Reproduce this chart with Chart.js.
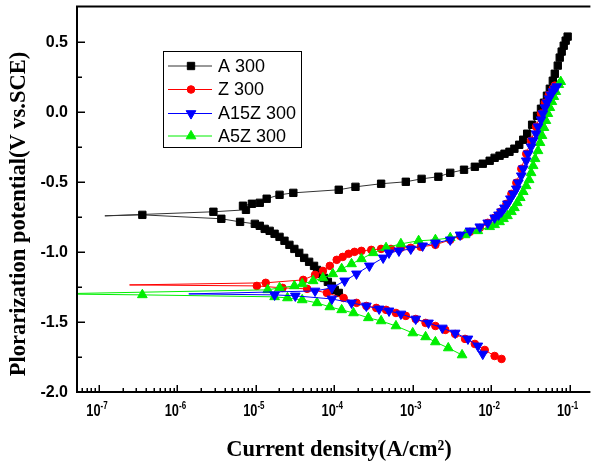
<!DOCTYPE html>
<html>
<head>
<meta charset="utf-8">
<script src="https://cdn.jsdelivr.net/npm/chart.js@4.4.1/dist/chart.umd.min.js"></script>
<style>
html,body{margin:0;padding:0;background:#fff;overflow:hidden}
canvas{display:block}
</style>
</head>
<body>
<canvas id="c" width="597" height="463"></canvas>
<script>
// ---- data: log10(current density, A/cm2) and potential (V vs. SCE) ----
const seriesNames = ['A 300', 'Z 300', 'A15Z 300', 'A5Z 300'];

const logI_A = [-3.943,-3.994,-4.031,-4.082,-4.132,-4.182,-4.220,-4.258,-4.321,-4.384,-4.447,-4.509,-4.572,-4.635,-4.698,-4.761,-4.824,-4.887,-4.950,-5.013,-5.201,-5.440,
  -6.447,-6.925,
  -5.541,-5.126,-5.164,-5.050,-4.950,-4.862,-4.698,-4.522,-3.943,-3.730,-3.403,-3.088,-2.887,-2.673,-2.522,-2.346,-2.208,-2.107,
  -2.019,-1.956,-1.893,-1.830,-1.767,-1.704,-1.642,-1.591,-1.541,-1.478,-1.415,-1.365,-1.327,-1.289,-1.252,-1.214,-1.189,-1.151,-1.126,-1.101,-1.075,-1.050,-1.025];
const E_A = [-1.293,-1.271,-1.243,-1.214,-1.186,-1.157,-1.129,-1.100,-1.071,-1.043,-1.007,-0.979,-0.950,-0.921,-0.893,-0.871,-0.850,-0.836,-0.814,-0.800,-0.786,-0.764,
  -0.736,-0.743,
  -0.714,-0.700,-0.671,-0.657,-0.650,-0.621,-0.593,-0.579,-0.557,-0.536,-0.514,-0.500,-0.479,-0.464,-0.436,-0.414,-0.393,-0.371,
  -0.350,-0.329,-0.314,-0.300,-0.286,-0.264,-0.236,-0.200,-0.157,-0.093,-0.029,0.021,0.064,0.114,0.164,0.221,0.271,0.329,0.386,0.429,0.471,0.507,0.536];

const logI_Z = [-1.868,-1.956,-2.082,-2.208,-2.333,-2.459,-2.585,-2.711,-2.836,-2.962,-3.088,-3.214,-3.340,-3.465,-3.591,-3.717,-3.881,-4.094,-4.346,-4.660,-4.987,
  -6.610,
  -4.874,-4.396,-4.245,-4.145,-4.057,-3.969,-3.893,-3.818,-3.742,-3.654,-3.528,-3.403,-3.277,-3.151,-3.025,-2.899,-2.711,
  -2.522,-2.396,-2.270,-2.145,-2.044,-1.956,-1.881,-1.805,-1.742,-1.679,-1.616,-1.553,-1.491,-1.428,-1.365,-1.314,-1.264,-1.214,-1.189];
const E_Z = [-1.764,-1.743,-1.700,-1.657,-1.621,-1.586,-1.557,-1.529,-1.507,-1.479,-1.457,-1.436,-1.414,-1.400,-1.386,-1.364,-1.329,-1.293,-1.264,-1.257,-1.243,
  -1.236,
  -1.221,-1.200,-1.164,-1.136,-1.100,-1.057,-1.036,-1.014,-1.000,-0.993,-0.986,-0.979,-0.979,-0.971,-0.971,-0.964,-0.950,
  -0.914,-0.886,-0.857,-0.829,-0.793,-0.757,-0.714,-0.657,-0.586,-0.507,-0.407,-0.300,-0.207,-0.107,-0.014,0.064,0.121,0.164,0.186];

const logI_A15Z = [-2.107,-2.170,-2.296,-2.459,-2.623,-2.799,-2.962,-3.151,-3.302,-3.428,-3.591,-3.780,-4.031,-4.497,-4.761,
  -5.855,
  -4.245,-4.031,-3.868,-3.717,-3.553,-3.377,-3.302,-3.176,-3.025,-2.874,-2.711,-2.522,-2.396,-2.270,-2.145,-2.044,-1.956,-1.906,-1.868,-1.830,-1.792,-1.755,-1.717,-1.679,-1.654,-1.616,-1.591,-1.553,-1.528,-1.491,-1.465,-1.428,-1.403,-1.365,-1.340,-1.314,-1.289,-1.264,-1.239,-1.214,-1.189,-1.164];
const E_A15Z = [-1.729,-1.671,-1.621,-1.579,-1.543,-1.507,-1.479,-1.443,-1.421,-1.407,-1.386,-1.364,-1.336,-1.314,-1.307,
  -1.300,
  -1.279,-1.257,-1.207,-1.157,-1.100,-1.043,-1.007,-0.993,-0.979,-0.957,-0.936,-0.914,-0.879,-0.850,-0.821,-0.793,-0.757,-0.736,-0.714,-0.686,-0.657,-0.621,-0.586,-0.550,-0.507,-0.457,-0.407,-0.350,-0.300,-0.250,-0.207,-0.157,-0.107,-0.057,-0.014,0.029,0.064,0.093,0.121,0.143,0.164,0.179];

const logI_A5Z = [-2.371,-2.547,-2.711,-2.836,-3.000,-3.214,-3.403,-3.566,-3.755,-3.906,-4.057,-4.220,-4.409,-4.597,-4.761,-6.447,
  -7.600,
  -4.849,-4.698,-4.509,-4.409,-4.270,-4.145,-4.019,-3.906,-3.780,-3.654,-3.503,-3.340,-3.151,-2.925,-2.711,-2.522,-2.333,-2.170,
  -2.019,-1.956,-1.893,-1.843,-1.792,-1.742,-1.704,-1.667,-1.629,-1.591,-1.553,-1.516,-1.491,-1.465,-1.440,-1.403,-1.377,-1.352,-1.327,-1.302,-1.277,-1.252,-1.226,-1.201,-1.176,-1.138,-1.113];
const E_A5Z = [-1.736,-1.686,-1.643,-1.607,-1.579,-1.529,-1.493,-1.471,-1.436,-1.414,-1.393,-1.364,-1.343,-1.329,-1.321,-1.307,
  -1.300,
  -1.271,-1.257,-1.243,-1.229,-1.207,-1.186,-1.157,-1.121,-1.086,-1.050,-1.007,-0.971,-0.943,-0.921,-0.914,-0.900,-0.879,-0.850,
  -0.821,-0.807,-0.786,-0.764,-0.743,-0.714,-0.686,-0.650,-0.614,-0.571,-0.529,-0.486,-0.436,-0.386,-0.336,-0.279,-0.221,-0.171,-0.114,-0.064,-0.014,0.029,0.071,0.107,0.143,0.193,0.214];

// tick labels
const xTickExponents = [-7, -6, -5, -4, -3, -2, -1];
const yTickLabels = ['-2.0', '-1.5', '-1.0', '-0.5', '0.0', '0.5'];

const xTitle = 'Current density(A/cm\u00B2)';
const yTitle = 'Plorarization potential(V vs.SCE)';

// ---- styles ----
const logSets = [logI_A, logI_Z, logI_A15Z, logI_A5Z];
const eSets = [E_A, E_Z, E_A15Z, E_A5Z];
const fillColors = ['#000000', '#ff0000', '#0000ff', '#00ee00'];
const lineColors = ['#333333', '#ff0000', '#0000ff', '#00ee00'];
const pointStyles = ['rect', 'circle', 'triangle', 'triangle'];
const pointRotations = [0, 0, 180, 0];
const pointSizes = [5.2, 3.8, 5.6, 5.6];
const drawOrder = [3, 2, 0, 1];

const datasets = seriesNames.map((name, i) => {
  const li = logSets[i], ev = eSets[i];
  const minIdx = li.indexOf(Math.min(...li)); // Ecorr extreme: line only, no marker
  return {
    label: name,
    data: li.map((v, k) => ({ x: Math.pow(10, v), y: ev[k] })),
    showLine: true,
    borderColor: lineColors[i],
    borderWidth: 1,
    backgroundColor: fillColors[i],
    pointBackgroundColor: fillColors[i],
    pointBorderColor: fillColors[i],
    pointBorderWidth: 1,
    pointStyle: pointStyles[i],
    pointRotation: pointRotations[i],
    pointRadius: ctx => (ctx.dataIndex === minIdx ? 0 : pointSizes[i]),
    tension: 0,
    order: drawOrder[i]
  };
});

function marker(ctx, style, x, y, r, rot) {
  ctx.beginPath();
  if (style === 'rect') {
    const s = r * Math.SQRT1_2;
    ctx.rect(x - s, y - s, 2 * s, 2 * s);
  } else if (style === 'circle') {
    ctx.arc(x, y, r, 0, Math.PI * 2);
  } else {
    let a = rot * Math.PI / 180;
    for (let k = 0; k < 3; k++) {
      const px = x + Math.sin(a) * r, py = y - Math.cos(a) * r;
      if (k) ctx.lineTo(px, py); else ctx.moveTo(px, py);
      a += 2 * Math.PI / 3;
    }
    ctx.closePath();
  }
  ctx.fill();
  ctx.stroke();
}

const decoPlugin = {
  id: 'deco',
  afterDraw(chart) {
    const { ctx, chartArea: a, scales: { x, y } } = chart;
    ctx.save();
    ctx.strokeStyle = '#000';
    ctx.fillStyle = '#000';

    // frame: left, bottom, top
    ctx.lineWidth = 2;
    ctx.beginPath();
    ctx.moveTo(a.left - 1, a.top); ctx.lineTo(a.right, a.top);
    ctx.moveTo(a.left, a.top); ctx.lineTo(a.left, a.bottom + 1);
    ctx.moveTo(a.left - 1, a.bottom); ctx.lineTo(a.right, a.bottom);
    ctx.stroke();

    // y ticks (inward) and labels
    ctx.lineWidth = 1.5;
    ctx.beginPath();
    const yVals = yTickLabels.map(Number);
    yVals.forEach(v => {
      const py = Math.round(y.getPixelForValue(v)) + 0.25;
      ctx.moveTo(a.left, py); ctx.lineTo(a.left + 8, py);
    });
    yVals.slice(0, -1).forEach(v => {
      const py = Math.round(y.getPixelForValue(v + 0.25)) + 0.25;
      ctx.moveTo(a.left, py); ctx.lineTo(a.left + 5, py);
    });
    // x ticks (inward), log minors
    for (let k = -8; k <= -1; k++) {
      for (let m = 1; m <= 9; m++) {
        const px = x.getPixelForValue(m * Math.pow(10, k));
        if (px < a.left + 1 || px > a.right - 1) continue;
        const len = m === 1 ? 7 : 4;
        const rx = Math.round(px) + 0.25;
        ctx.moveTo(rx, a.bottom); ctx.lineTo(rx, a.bottom - len);
      }
    }
    ctx.stroke();

    ctx.font = 'bold 16px "Liberation Sans", Arial, sans-serif';
    ctx.textAlign = 'right';
    ctx.textBaseline = 'middle';
    yTickLabels.forEach((t, i) => {
      ctx.fillText(t, a.left - 9, y.getPixelForValue(yVals[i]) + 0.5);
    });

    // x labels: 10 with superscript exponent
    const sx = 0.8;
    const baseFont = 'bold 16px "Liberation Sans", Arial, sans-serif';
    const supFont = 'bold 10px "Liberation Sans", Arial, sans-serif';
    ctx.textAlign = 'left';
    ctx.textBaseline = 'alphabetic';
    xTickExponents.forEach(e => {
      const px = x.getPixelForValue(Math.pow(10, e));
      const sup = String(e);
      ctx.font = baseFont;
      const wb = ctx.measureText('10').width * sx;
      ctx.font = supFont;
      const ws = ctx.measureText(sup).width * sx;
      const start = px - 2 - (wb + ws) / 2;
      ctx.save();
      ctx.translate(start, 416);
      ctx.scale(sx, 1);
      ctx.font = baseFont;
      ctx.fillText('10', 0, 0);
      ctx.font = supFont;
      ctx.fillText(sup, wb / sx, -7);
      ctx.restore();
    });

    // axis titles
    ctx.font = 'bold 22.5px "Liberation Serif", "Times New Roman", serif';
    ctx.textAlign = 'center';
    ctx.textBaseline = 'alphabetic';
    ctx.fillText(xTitle, 339, 456);
    ctx.save();
    ctx.translate(25, 214);
    ctx.rotate(-Math.PI / 2);
    ctx.fillText(yTitle, 0, 0);
    ctx.restore();

    // legend box
    ctx.lineWidth = 1;
    ctx.strokeStyle = '#000';
    ctx.strokeRect(163.5, 51.5, 138, 96);
    const rows = [65.5, 89, 113, 135.5];
    ctx.font = '18px "Liberation Sans", Arial, sans-serif';
    ctx.textAlign = 'left';
    ctx.textBaseline = 'middle';
    seriesNames.forEach((name, i) => {
      const ry = rows[i];
      ctx.strokeStyle = lineColors[i];
      ctx.lineWidth = 1;
      ctx.beginPath();
      ctx.moveTo(168, ry + 0.5); ctx.lineTo(212, ry + 0.5);
      ctx.stroke();
      ctx.fillStyle = fillColors[i];
      ctx.strokeStyle = fillColors[i];
      marker(ctx, pointStyles[i], 191, ry + 0.5, pointSizes[i], pointRotations[i]);
      ctx.fillStyle = '#000';
      ctx.fillText(name, 218, ry + 1.5);
    });
    ctx.restore();
  }
};

new Chart(document.getElementById('c'), {
  type: 'scatter',
  data: { datasets },
  options: {
    responsive: false,
    animation: false,
    devicePixelRatio: 1,
    events: [],
    layout: { padding: { left: 77, top: 6, right: 0, bottom: 71 } },
    plugins: { legend: { display: false }, tooltip: { enabled: false } },
    scales: {
      x: { type: 'logarithmic', display: false, min: Math.pow(10, -7.28), max: Math.pow(10, -0.735) },
      y: { type: 'linear', display: false, min: -2.0, max: 0.75 }
    }
  },
  plugins: [decoPlugin]
});
</script>
</body>
</html>
